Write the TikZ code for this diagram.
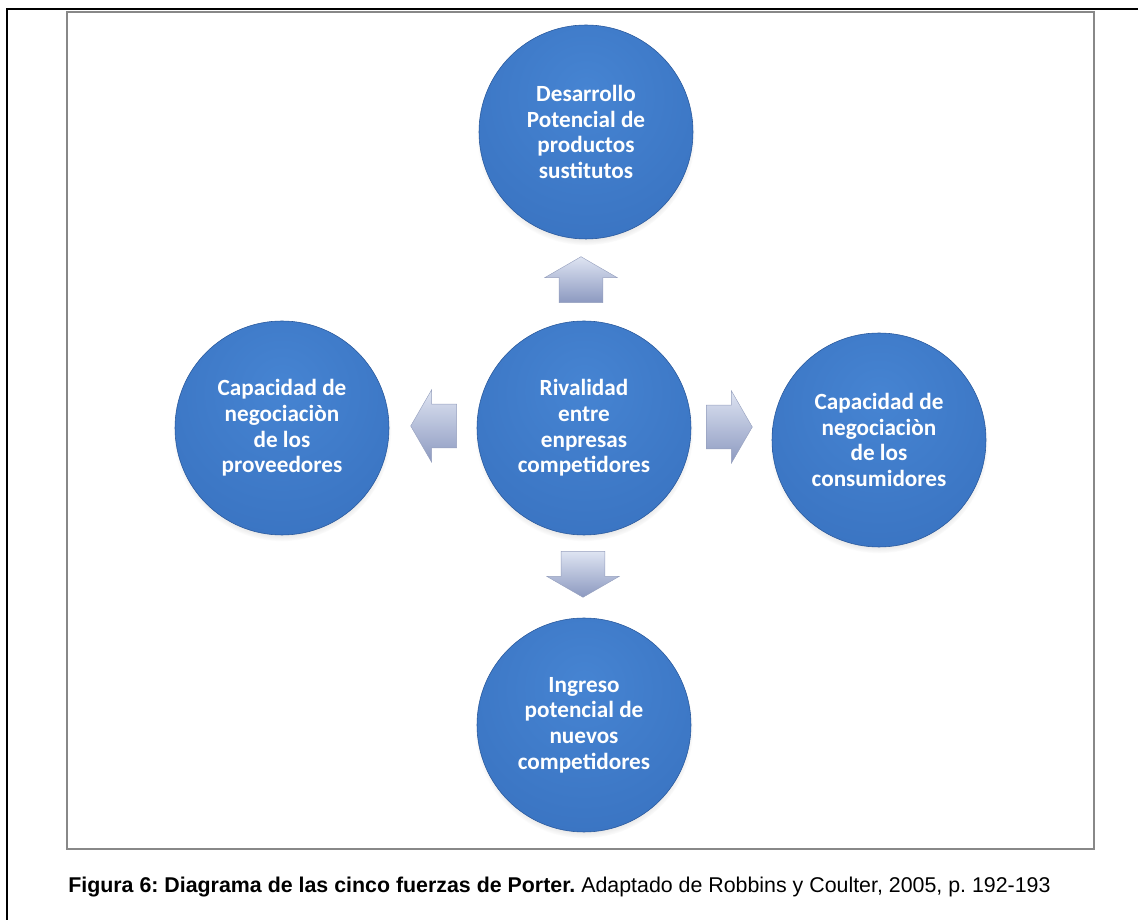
\documentclass[tikz,border=0pt]{standalone}
\usepackage{fontspec}
\setmainfont{Liberation Sans}
\newfontfamily\ballfont{Carlito}
\frenchspacing
\usetikzlibrary{backgrounds,shapes,shadows,fadings}
\pgfdeclarelayer{edgelayer}
\pgfdeclarelayer{nodelayer}
\pgfsetlayers{edgelayer,nodelayer,main}
\definecolor{ballin}{RGB}{70,132,210}
\definecolor{ballmid}{RGB}{58,116,194}
\definecolor{ballout}{RGB}{40,88,156}
\definecolor{ballrim}{RGB}{70,118,184}
\definecolor{arrtop}{RGB}{222,228,242}
\definecolor{arrbot}{RGB}{140,153,192}
\definecolor{arredge}{RGB}{150,160,190}
\definecolor{framegray}{RGB}{136,136,136}
\pgfdeclareradialshading{ballshade}{\pgfpoint{0bp}{10bp}}{color(0bp)=(ballin); color(34bp)=(ballmid); color(47bp)=(ballout); color(50bp)=(ballrim); color(100bp)=(ballrim)}
\tikzstyle{none}=[inner sep=0pt]
\tikzstyle{ball}=[circle,minimum size=5.35cm,inner sep=0pt,shading=ballshade,draw=ballout,line width=0.4pt,text=white,align=center,font=\ballfont\bfseries\fontsize{16.5}{18.3}\selectfont,circular drop shadow={shadow xshift=0pt,shadow yshift=-0.1cm,shadow scale=1.02,opacity=0.45}]
\tikzstyle{push}=[single arrow,minimum height=1.15cm,inner xsep=0pt,inner ysep=0.54cm,single arrow head extend=0.36cm,single arrow tip angle=120,top color=arrtop,bottom color=arrbot,draw=arredge,line width=0.3pt]
\tikzstyle{pushv}=[style=push,inner xsep=0.54cm,inner ysep=0pt]
\tikzstyle{rule}=[line width=2.1pt]

\begin{document}
\begin{tikzpicture}
	\useasboundingbox (0,0) rectangle (28.45,23);
	\begin{pgfonlayer}{nodelayer}
		\node [style=ball] (0) at (14.6, 12.3) {Rivalidad\\entre\\enpresas\\competidores};
		\node [style=ball] (1) at (14.65, 19.7) {Desarrollo\\Potencial de\\productos\\sustitutos};
		\node [style=ball] (2) at (7.05, 12.3) {Capacidad de\\negociaciòn\\de los\\proveedores};
		\node [style=ball] (3) at (21.975, 12.0) {Capacidad de\\negociaciòn\\de los\\consumidores};
		\node [style=ball] (4) at (14.6, 4.875) {Ingreso\\potencial de\\nuevos\\competidores};
		\node [style=pushv, shape border rotate=90] (5) at (14.525, 15.85) {};
		\node [style=push, shape border rotate=180] (6) at (11.0, 12.35) {};
		\node [style=push] (7) at (18.075, 12.325) {};
		\node [style=pushv, shape border rotate=270] (8) at (14.575, 8.8) {};
		\node [style=none, anchor=base west] (9) at (1.7, 0.675) {\fontsize{15.2}{18}\selectfont\textbf{Figura 6: Diagrama de las cinco fuerzas de Porter.} Adaptado de Robbins y Coulter, 2005, p. 192-193};
	\end{pgfonlayer}
	\begin{pgfonlayer}{edgelayer}
		\draw [style=rule] (28.45, 22.775) -- (0.175, 22.775) -- (0.175, 0);
		\draw [style=rule, draw=framegray] (1.675, 1.775) rectangle (27.35, 22.7);
	\end{pgfonlayer}
\end{tikzpicture}
\end{document}
